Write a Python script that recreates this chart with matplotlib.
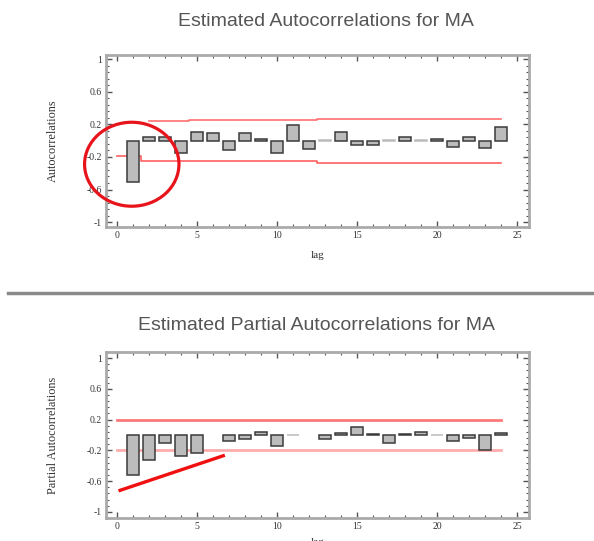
import matplotlib
matplotlib.use("Agg")
import matplotlib.pyplot as plt
import numpy as np
from matplotlib.patches import Ellipse
from matplotlib.lines import Line2D
from matplotlib.ticker import MultipleLocator, AutoMinorLocator

# data
lags = np.arange(1, 25)
acf = [-0.51, 0.05, 0.05, -0.15, 0.10, 0.09, -0.12, 0.09, 0.02, -0.15, 0.19, -0.10,
       0.005, 0.10, -0.05, -0.05, 0.005, 0.045, 0.005, 0.02, -0.08, 0.045, -0.085, 0.17]
pacf = [-0.515, -0.32, -0.11, -0.27, -0.23, np.nan, -0.08, -0.05, 0.04, -0.14, 0.005, np.nan,
        -0.05, 0.03, 0.11, 0.01, -0.11, 0.015, 0.04, 0.005, -0.08, -0.04, -0.19, 0.02]
lim_lags = np.arange(0, 25)
acf_lim = [0.19] * 2 + [0.245] * 3 + [0.255] * 8 + [0.27] * 12
pacf_lim = [0.19] * 25

ytick_vals = [1, 0.6, 0.2, -0.2, -0.6, -1]
ytick_lbls = ["1", "0.6", "0.2", "-0.2", "-0.6", "-1"]

W, H = 594, 541
fig = plt.figure(figsize=(W / 100, H / 100), dpi=100)


def px(x0, y0, x1, y1):
    return [x0 / W, 1 - y1 / H, (x1 - x0) / W, (y1 - y0) / H]


def style(ax, ylim, ylabel):
    ax.set_xlim(-0.69, 25.75)
    ax.set_ylim(*ylim)
    ax.set_xticks([0, 5, 10, 15, 20, 25])
    ax.xaxis.set_minor_locator(MultipleLocator(1))
    ax.set_yticks(ytick_vals)
    ax.set_yticklabels(ytick_lbls)
    ax.yaxis.set_minor_locator(AutoMinorLocator(5))
    ax.tick_params(which="both", direction="in", top=True, right=True,
                   color="#555555", labelsize=7, labelcolor="#333333", pad=3)
    ax.tick_params(which="major", length=4, width=1)
    ax.tick_params(which="minor", length=2.5, width=0.8)
    for lab in ax.get_xticklabels() + ax.get_yticklabels():
        lab.set_family("Liberation Serif")
    for s in ax.spines.values():
        s.set_color("#aaaaaa")
        s.set_linewidth(2)
    ax.set_ylabel(ylabel, family="Liberation Serif", fontsize=8.8, color="#333333", labelpad=20)


def bars(ax, vals):
    vals = np.asarray(vals, dtype=float)
    ec = ["#bbbbbb" if abs(v) < 0.01 else "#3a3a3a" for v in np.nan_to_num(vals)]
    ax.bar(lags, vals, width=0.8, color="#bcbcbc", edgecolor=ec, linewidth=1.1, zorder=3)


# top: autocorrelations
ax1 = fig.add_axes(px(106, 55, 529, 227))
style(ax1, (-1.06, 1.05), "Autocorrelations")
bars(ax1, acf)
ax1.plot(lim_lags[2:], acf_lim[2:], drawstyle="steps-mid", color="#ff7070", lw=1.2, zorder=2)
ax1.plot(lim_lags, -np.array(acf_lim), drawstyle="steps-mid", color="#ff6060", lw=1.2, zorder=2)
ax1.set_xlabel("lag", family="Liberation Serif", fontsize=8, color="#333333", labelpad=8)
ax1.add_patch(Ellipse((0.92, -0.29), 5.9, 1.03, fill=False, ec="#e8141c", lw=2.3,
                      clip_on=False, zorder=5))
fig.text(326 / W, 1 - 22 / H, "Estimated Autocorrelations for MA", ha="center", va="center",
         family="Liberation Sans", fontsize=14, color="#555555")

# separator
fig.add_artist(Line2D([8 / W, 1], [1 - 292.7 / H] * 2, color="#8a8a88", lw=2.5))

# bottom: partial autocorrelations
ax2 = fig.add_axes(px(106, 352, 529, 518))
style(ax2, (-1.08, 1.08), "Partial Autocorrelations")
bars(ax2, pacf)
ax2.plot(lim_lags, pacf_lim, color="#ff7a7a", lw=2, zorder=2)
ax2.plot(lim_lags, -np.array(pacf_lim), color="#ffadad", lw=2, zorder=2)
ax2.plot([0.19, 6.64], [-0.72, -0.27], color="#f01010", lw=2.4, zorder=5, clip_on=False)
ax2.set_xlabel("lag", family="Liberation Serif", fontsize=8, color="#333333", labelpad=5)
fig.text(316 / W, 1 - 325 / H, "Estimated Partial Autocorrelations for MA", ha="center",
         va="center", family="Liberation Sans", fontsize=14, color="#555555")

fig.savefig("out.png", dpi=100)
